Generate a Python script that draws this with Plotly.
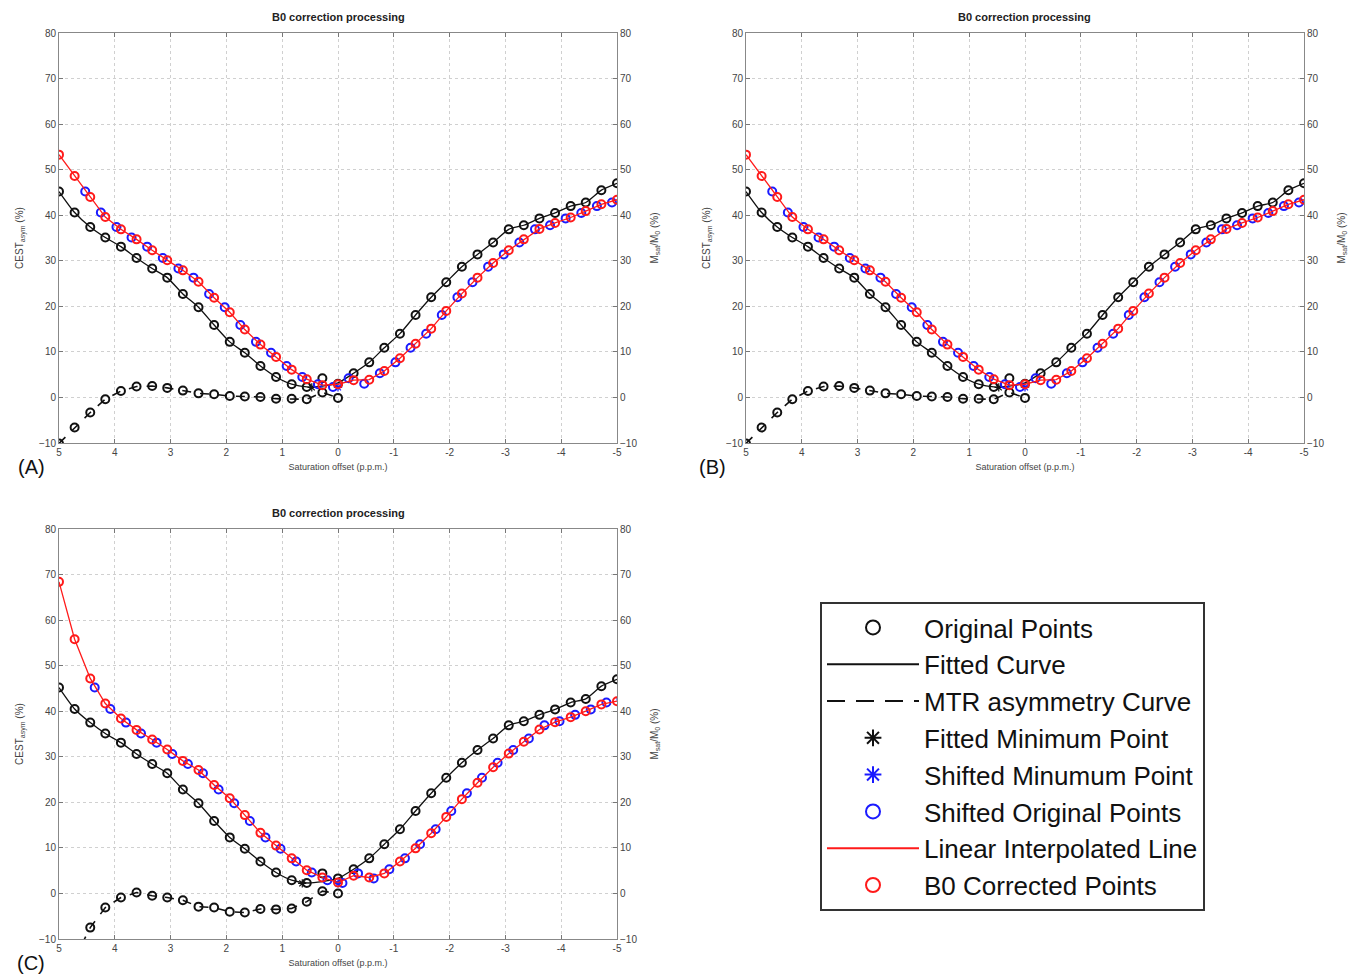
import plotly.graph_objects as go

# ---------------- data ----------------
offsets = [5, 4.72, 4.44, 4.17, 3.89, 3.61, 3.33, 3.06, 2.78, 2.5, 2.22, 1.94, 1.67, 1.39, 1.11, 0.83, 0.56, 0.28, 0,
           -0.28, -0.56, -0.83, -1.11, -1.39, -1.67, -1.94, -2.22, -2.5, -2.78, -3.06, -3.33, -3.61, -3.89, -4.17, -4.44, -4.72, -5]
pos_offsets = offsets[:19]

# Panels A and B (same measurements)
orig_AB = [45.2, 40.6, 37.4, 35.1, 33.1, 30.6, 28.3, 26.3, 22.7, 19.8, 15.9, 12.2, 9.8, 6.9, 4.5, 2.9, 2.3, 4.2, 3.0,
           5.3, 7.7, 10.9, 14.0, 18.1, 22.0, 25.3, 28.7, 31.4, 34.0, 36.9, 37.8, 39.3, 40.5, 42.0, 42.8, 45.5, 47.0]
fitted_AB = [45.2, 40.6, 37.4, 35.1, 33.1, 30.6, 28.3, 26.3, 22.7, 19.8, 15.9, 12.2, 9.8, 6.9, 4.5, 2.9, 2.3, 2.5, 3.2,
             5.3, 7.7, 10.9, 14.0, 18.1, 22.0, 25.3, 28.7, 31.4, 34.0, 36.9, 37.8, 39.3, 40.5, 42.0, 42.8, 45.5, 47.0]
corrected_AB = [53.3, 48.6, 44.0, 39.6, 36.9, 34.7, 32.3, 30.1, 27.9, 25.4, 21.9, 18.7, 14.9, 11.6, 8.9, 6.1, 4.0, 2.7, 2.9,
                3.8, 3.9, 5.8, 8.6, 11.8, 15.1, 19.0, 22.8, 26.3, 29.5, 32.3, 34.7, 37.0, 38.3, 39.5, 40.9, 42.4, 43.4]
mtr_AB = [-10.1, -6.6, -3.3, -0.4, 1.4, 2.4, 2.5, 2.1, 1.5, 0.9, 0.7, 0.3, 0.2, 0.1, -0.3, -0.3, -0.4, 1.1, -0.1]
shift_AB = 0.47
min_value_AB = 2.2

# Panel C
orig_C = [45.2, 40.5, 37.5, 35.1, 33.1, 30.6, 28.4, 26.4, 22.8, 19.8, 15.9, 12.3, 9.8, 7.0, 4.6, 2.9, 2.3, 4.4, 3.3,
          5.3, 7.7, 10.8, 14.1, 18.1, 22.0, 25.4, 28.7, 31.5, 34.0, 36.9, 37.8, 39.2, 40.4, 41.9, 42.7, 45.5, 47.0]
fitted_C = [45.2, 40.5, 37.5, 35.1, 33.1, 30.6, 28.4, 26.4, 22.8, 19.8, 15.9, 12.3, 9.8, 7.0, 4.6, 2.9, 2.3, 2.6, 3.3,
            5.3, 7.7, 10.8, 14.1, 18.1, 22.0, 25.4, 28.7, 31.5, 34.0, 36.9, 37.8, 39.2, 40.4, 41.9, 42.7, 45.5, 47.0]
corrected_C = [68.4, 55.8, 47.2, 41.7, 38.4, 35.9, 33.8, 31.6, 29.1, 27.1, 23.8, 20.9, 17.2, 13.3, 10.5, 7.7, 5.1, 3.5, 2.4,
               3.9, 3.5, 4.4, 7.0, 9.9, 13.2, 16.8, 20.7, 24.3, 27.7, 30.7, 33.3, 36.0, 37.6, 38.7, 40.0, 41.5, 42.2]
mtr_C = [-26.2, -14.3, -7.5, -3.1, -0.9, 0.2, -0.5, -0.9, -1.5, -2.9, -3.1, -4.0, -4.2, -3.4, -3.5, -3.3, -1.8, 0.5, 0.0]
shift_C = 0.64
min_value_C = 2.2

x_ticks = [5, 4, 3, 2, 1, 0, -1, -2, -3, -4, -5]
y_ticks = [-10, 0, 10, 20, 30, 40, 50, 60, 70, 80]

W, H = 1357, 978
OFF = 8  # page body margin in the browser
FONT = "Liberation Sans, Arial, sans-serif"


def px_x(v):
    return (v - OFF) / W


def px_y(v):
    return 1 - (v - OFF) / H


fig = go.Figure()

panels = [
    dict(label="(A)", xa="x", ya="y", yb="y2", box=(59, 617, 33, 443), lab=(31, 467),
         orig=orig_AB, fit=fitted_AB, corr=corrected_AB, mtr=mtr_AB, shift=shift_AB, mn=min_value_AB),
    dict(label="(B)", xa="x2", ya="y3", yb="y4", box=(746, 1304, 33, 443), lab=(712, 467),
         orig=orig_AB, fit=fitted_AB, corr=corrected_AB, mtr=mtr_AB, shift=shift_AB, mn=min_value_AB),
    dict(label="(C)", xa="x3", ya="y5", yb="y6", box=(59, 617, 529, 939), lab=(31, 963),
         orig=orig_C, fit=fitted_C, corr=corrected_C, mtr=mtr_C, shift=shift_C, mn=min_value_C),
]


def ax_name(a):
    return a.replace("x", "xaxis").replace("y", "yaxis")


BLACK = "#111111"
BLUE = "#1a1aff"
RED = "#ff1a1a"
circ = dict(symbol="circle-open", size=8, line=dict(width=2))

annotations = []
for p in panels:
    xa, ya, yb = p["xa"], p["ya"], p["yb"]
    blue_x = [o - p["shift"] for o in offsets]
    common = dict(showlegend=False, xaxis=xa, yaxis=ya, hoverinfo="skip")

    fig.add_trace(go.Scatter(x=offsets, y=p["fit"], mode="lines",
                             line=dict(color=BLACK, width=1.3, shape="spline", smoothing=0.6), **common))
    fig.add_trace(go.Scatter(x=pos_offsets, y=p["mtr"], mode="lines", line=dict(color=BLACK, width=1.6, dash="dash"), **common))
    fig.add_trace(go.Scatter(x=pos_offsets, y=p["mtr"], mode="markers", marker=dict(color=BLACK, **circ), **common))
    fig.add_trace(go.Scatter(x=offsets, y=p["orig"], mode="markers", marker=dict(color=BLACK, **circ), **common))
    fig.add_trace(go.Scatter(x=[p["shift"]], y=[p["mn"]], mode="markers",
                             marker=dict(symbol="asterisk-open", size=7, color=BLACK, line=dict(width=1.2, color=BLACK)), **common))
    fig.add_trace(go.Scatter(x=blue_x, y=p["orig"], mode="markers", marker=dict(color=BLUE, **circ), **common))
    fig.add_trace(go.Scatter(x=[0], y=[p["mn"]], mode="markers",
                             marker=dict(symbol="asterisk-open", size=7, color=BLUE, line=dict(width=1.2, color=BLUE)), **common))
    fig.add_trace(go.Scatter(x=offsets, y=p["corr"], mode="lines", line=dict(color=RED, width=1.3), **common))
    fig.add_trace(go.Scatter(x=offsets, y=p["corr"], mode="markers", marker=dict(color=RED, **circ), **common))
    fig.add_trace(go.Scatter(x=offsets, y=p["orig"], mode="lines", line=dict(width=0, color="rgba(0,0,0,0)"),
                             showlegend=False, xaxis=xa, yaxis=yb, hoverinfo="skip"))

    x0, x1, yt, ybt = p["box"]
    dom_x = [px_x(x0), px_x(x1)]
    dom_y = [px_y(ybt), px_y(yt)]
    tickfont = dict(family=FONT, size=10, color="#444")
    fig.layout[ax_name(xa)] = dict(
        domain=dom_x, anchor=ya, range=[5, -5], tickvals=x_ticks, ticktext=[str(v) for v in x_ticks],
        showgrid=True, gridcolor="#d0d0d0", griddash="dot", gridwidth=1, automargin=False,
        ticks="inside", ticklen=4, tickcolor="#777", showline=True, linecolor="#888", linewidth=1, mirror="ticks",
        zeroline=False, tickfont=tickfont,
        title=dict(text="Saturation offset (p.p.m.)", font=dict(family=FONT, size=9, color="#444"), standoff=6))
    fig.layout[ax_name(ya)] = dict(
        domain=dom_y, anchor=xa, range=[-10, 80], tickvals=y_ticks, automargin=False,
        showgrid=True, gridcolor="#d0d0d0", griddash="dot", gridwidth=1,
        ticks="inside", ticklen=4, tickcolor="#777", showline=True, linecolor="#888", linewidth=1,
        zeroline=False, tickfont=tickfont,
        title=dict(text="CEST<sub>asym</sub> (%)", font=dict(family=FONT, size=10, color="#444"), standoff=13))
    fig.layout[ax_name(yb)] = dict(
        overlaying=ya, side="right", anchor=xa, range=[-10, 80], tickvals=y_ticks, showgrid=False, automargin=False,
        ticks="inside", ticklen=4, tickcolor="#777", showline=True, linecolor="#888", linewidth=1,
        zeroline=False, tickfont=tickfont,
        title=dict(text="M<sub>sat</sub>/M<sub>0</sub> (%)", font=dict(family=FONT, size=10, color="#444"), standoff=14))

    annotations.append(dict(text="<b>B0 correction processing</b>", x=px_x((x0 + x1) / 2), y=px_y(yt - 16),
                            xref="paper", yref="paper", showarrow=False, xanchor="center", yanchor="middle",
                            font=dict(family=FONT, size=11, color="#222")))
    annotations.append(dict(text=p["label"], x=px_x(p["lab"][0]), y=px_y(p["lab"][1]), xref="paper", yref="paper",
                            showarrow=False, xanchor="center", yanchor="middle",
                            font=dict(family=FONT, size=20, color="#111")))

# legend-only entries (same styles, legend-sized symbols)
leg_marker = dict(size=14, line=dict(width=2))
legend_items = [
    ("Original Points", dict(mode="markers", marker=dict(symbol="circle-open", color=BLACK, **leg_marker))),
    ("Fitted Curve", dict(mode="lines", line=dict(color=BLACK, width=2))),
    ("MTR asymmetry Curve", dict(mode="lines", line=dict(color=BLACK, width=2, dash="18px,11px"))),
    ("Fitted Minimum Point", dict(mode="markers", marker=dict(symbol="asterisk-open", color=BLACK, size=14, line=dict(width=2, color=BLACK)))),
    ("Shifted Minumum Point", dict(mode="markers", marker=dict(symbol="asterisk-open", color=BLUE, size=14, line=dict(width=2, color=BLUE)))),
    ("Shifted Original Points", dict(mode="markers", marker=dict(symbol="circle-open", color=BLUE, **leg_marker))),
    ("Linear Interpolated Line", dict(mode="lines", line=dict(color=RED, width=2))),
    ("B0 Corrected Points", dict(mode="markers", marker=dict(symbol="circle-open", color=RED, **leg_marker))),
]
for i, (name, style) in enumerate(legend_items):
    fig.add_trace(go.Scatter(x=[None], y=[None], name=name, legendgroup=f"g{i}", legendrank=i + 1,
                             showlegend=True, xaxis="x", yaxis="y", hoverinfo="skip", **style))

fig.update_layout(
    width=W, height=H, margin=dict(l=0, r=0, t=0, b=0, autoexpand=False),
    paper_bgcolor="white", plot_bgcolor="white",
    annotations=annotations,
    showlegend=True,
    legend=dict(x=px_x(820), y=px_y(602), xanchor="left", yanchor="top",
                bgcolor="white", bordercolor="#333", borderwidth=2,
                font=dict(family=FONT, size=26, color="#111"),
                tracegroupgap=0, itemwidth=92, traceorder="grouped", itemsizing="trace"),
)

fig.write_html("out.html")
